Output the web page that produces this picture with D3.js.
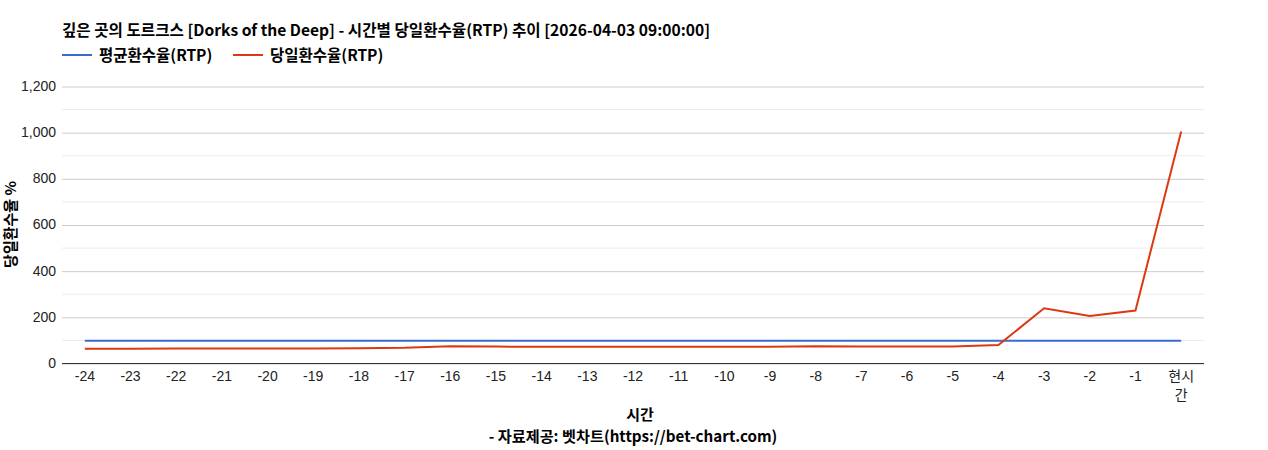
<!DOCTYPE html>
<html>
<head>
<meta charset="utf-8">
<script src="https://cdn.jsdelivr.net/npm/d3@7"></script>
<style>
  body { margin: 0; background: #fff; }
  text { font-family: Arial, "Liberation Sans", "Noto Sans CJK KR", sans-serif; }
  .bold { font-family: "Noto Sans CJK KR", "Noto Sans", sans-serif; font-weight: bold; }
</style>
</head>
<body>
<svg></svg>
<script>
// data
const hours = ["-24", "-23", "-22", "-21", "-20", "-19", "-18", "-17", "-16", "-15", "-14", "-13",
  "-12", "-11", "-10", "-9", "-8", "-7", "-6", "-5", "-4", "-3", "-2", "-1", "현시간"];
const avgRtp = [96, 96, 96, 96, 96, 96, 96, 96, 96, 96, 96, 96,
  96, 96, 96, 96, 96, 96, 96, 96, 96, 96, 96, 96, 96];
const dayRtp = [62, 62, 63, 63, 63, 63, 64, 66, 73, 71, 70, 70,
  70, 70, 70, 70, 73, 71, 71, 71, 78, 237, 204, 227, 1003];
const yTicks = [0, 200, 400, 600, 800, 1000, 1200];

const width = 1268;
const height = 450;
const margin = { top: 86, right: 64, bottom: 87, left: 62 };

const svg = d3.select("svg").attr("width", width).attr("height", height);

const x = d3.scalePoint()
  .domain(hours)
  .range([margin.left, width - margin.right])
  .padding(0.5);

const y = d3.scaleLinear()
  .domain([0, 1200])
  .range([height - margin.bottom, margin.top]);

// minor gridlines
svg.append("g")
  .selectAll("line")
  .data(d3.range(100, 1200, 200))
  .join("line")
  .attr("x1", margin.left)
  .attr("x2", width - margin.right)
  .attr("y1", (d) => y(d) + 0.5)
  .attr("y2", (d) => y(d) + 0.5)
  .style("stroke", "#ebebeb");

// major gridlines + y labels
const yAxis = svg.append("g")
  .attr("transform", `translate(${margin.left},0)`)
  .call(d3.axisLeft(y).tickValues(yTicks).tickSize(-(width - margin.left - margin.right))
    .tickFormat(d3.format(",")).tickPadding(6));
yAxis.select(".domain").remove();
yAxis.selectAll(".tick line").style("stroke", "#cccccc").attr("transform", "translate(0,0.5)");
yAxis.selectAll(".tick text").style("font-size", "14px").style("fill", "#222");

// baseline
svg.append("line")
  .attr("x1", margin.left)
  .attr("x2", width - margin.right)
  .attr("y1", y(0) + 0.5)
  .attr("y2", y(0) + 0.5)
  .style("stroke", "#333");

// x labels
const xLab = svg.append("g")
  .selectAll("text")
  .data(hours)
  .join("text")
  .attr("x", (d) => x(d))
  .attr("y", y(0) + 18)
  .attr("text-anchor", "middle")
  .style("font-size", "14px")
  .style("fill", "#222");
xLab.each(function (d) {
  const t = d3.select(this);
  if (d === "현시간") {
    t.append("tspan").attr("x", x(d)).attr("dy", 0).text("현시");
    t.append("tspan").attr("x", x(d)).attr("dy", 19).text("간");
  } else {
    t.text(d);
  }
});

// lines
const line = (vals) => d3.line()
  .x((d, i) => x(hours[i]))
  .y((d) => y(d))(vals);

svg.append("path")
  .attr("d", line(avgRtp))
  .style("fill", "none")
  .style("stroke", "#3a6bd0")
  .style("stroke-width", 2);

svg.append("path")
  .attr("d", line(dayRtp))
  .style("fill", "none")
  .style("stroke", "#dc3912")
  .style("stroke-width", 2);

// title
svg.append("text")
  .attr("class", "bold")
  .attr("x", 62)
  .attr("y", 36)
  .style("font-size", "15.6px")
  .style("fill", "#000")
  .text("깊은 곳의 도르크스 [Dorks of the Deep] - 시간별 당일환수율(RTP) 추이 [2026-04-03 09:00:00]");

// legend
const legend = [
  { name: "평균환수율(RTP)", color: "#3a6bd0", x: 62 },
  { name: "당일환수율(RTP)", color: "#dc3912", x: 233 },
];
const lg = svg.append("g")
  .selectAll("g")
  .data(legend)
  .join("g")
  .attr("transform", (d) => `translate(${d.x},55)`);
lg.append("line")
  .attr("x1", 0).attr("x2", 30)
  .style("stroke", (d) => d.color)
  .style("stroke-width", 2);
lg.append("text")
  .attr("class", "bold")
  .attr("x", 37)
  .attr("y", 5.5)
  .style("font-size", "15.5px")
  .text((d) => d.name);

// axis titles
svg.append("text")
  .attr("class", "bold")
  .attr("transform", `translate(16,${(margin.top + height - margin.bottom) / 2}) rotate(-90)`)
  .attr("text-anchor", "middle")
  .style("font-size", "15px")
  .text("당일환수율 %");

svg.append("text")
  .attr("class", "bold")
  .attr("x", 640)
  .attr("y", 420)
  .attr("text-anchor", "middle")
  .style("font-size", "15px")
  .text("시간");

svg.append("text")
  .attr("class", "bold")
  .attr("x", 633)
  .attr("y", 442)
  .attr("text-anchor", "middle")
  .style("font-size", "15.2px")
  .text("- 자료제공: 벳차트(https://bet-chart.com)");
</script>
</body>
</html>
